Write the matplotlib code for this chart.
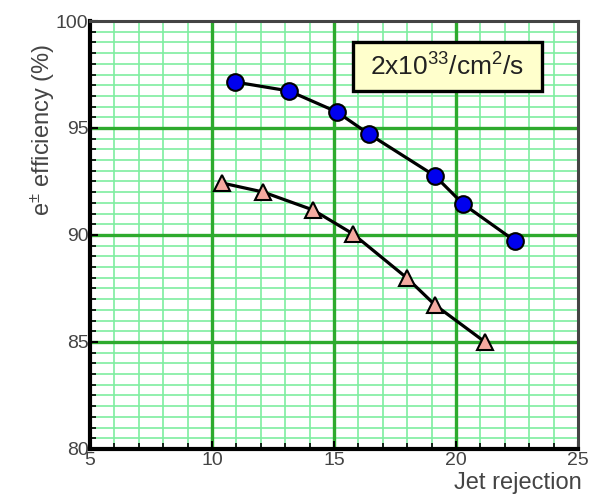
import matplotlib
matplotlib.use("Agg")
import matplotlib.pyplot as plt
from matplotlib.ticker import MultipleLocator
from matplotlib.patches import Rectangle
import numpy as np

# Data
circ_x = [10.94, 13.16, 15.12, 16.43, 19.14, 20.29, 22.42]
circ_y = [97.15, 96.73, 95.75, 94.72, 92.76, 91.45, 89.72]
tri_x = [10.41, 12.09, 14.14, 15.78, 17.99, 19.14, 21.19]
tri_y = [92.43, 92.01, 91.17, 90.05, 87.99, 86.73, 85.00]
x_ticks = [5, 10, 15, 20, 25]
y_ticks = [80, 85, 90, 95, 100]
label_text = r"2x10$^{33}$/cm$^{2}$/s"

plt.rcParams['font.family'] = ['Liberation Sans', 'DejaVu Sans']
plt.rcParams['mathtext.fontset'] = 'custom'
plt.rcParams['mathtext.rm'] = 'Liberation Sans'
plt.rcParams['mathtext.it'] = 'Liberation Sans'

fig = plt.figure(figsize=(5.95, 4.99), dpi=100)
ax = fig.add_axes([90/595, 1-449/499, 488/595, 428/499])

ax.set_xlim(5, 25)
ax.set_ylim(80, 100)
ax.set_xticks(x_ticks)
ax.set_yticks(y_ticks)
ax.xaxis.set_minor_locator(MultipleLocator(1))
ax.yaxis.set_minor_locator(MultipleLocator(0.5))

# grid: minor lines first, then major lines on top
minor_col = '#7eeea0'
major_col = '#2eaa2e'
for xv in np.arange(6, 25, 1):
    ax.axvline(xv, color=minor_col, linewidth=1.2, zorder=0.2)
for yv in np.arange(80.5, 100, 0.5):
    ax.axhline(yv, color=minor_col, linewidth=1.2, zorder=0.2)
for xv in x_ticks[1:-1]:
    ax.axvline(xv, color=major_col, linewidth=2.4, zorder=0.3)
for yv in y_ticks[1:-1]:
    ax.axhline(yv, color=major_col, linewidth=2.4, zorder=0.3)

ax.plot(circ_x, circ_y, color='black', linewidth=2.3, zorder=3)
ax.plot(circ_x, circ_y, linestyle='none', marker='o', markersize=12,
        markerfacecolor='#0000ee', markeredgecolor='black', markeredgewidth=1.5, zorder=4)
ax.plot(tri_x, tri_y, color='black', linewidth=2.3, zorder=3)
ax.plot(tri_x, tri_y, linestyle='none', marker='^', markersize=11.5,
        markerfacecolor='#f3aaa0', markeredgecolor='black', markeredgewidth=1.5, zorder=4)

for s in ['left', 'bottom']:
    ax.spines[s].set_linewidth(3)
    ax.spines[s].set_color('black')
for s in ['top', 'right']:
    ax.spines[s].set_linewidth(2.2)
    ax.spines[s].set_color('#444444')

ax.tick_params(which='both', direction='in', color='black', labelcolor='#444444',
               labelsize=14, top=False, right=False)
ax.tick_params(which='major', length=6, width=1.5, pad=2)
ax.tick_params(which='minor', length=4, width=1.2)
ax.tick_params(axis='y', which='both', pad=1)

ax.set_ylabel(r"e$^{\pm}$ efficiency (%)", fontsize=17, color='#444444')
ax.yaxis.set_label_coords(-0.068, 0.745)
ax.set_xlabel("Jet rejection", fontsize=17, color='#444444', loc='right')
ax.xaxis.set_label_coords(1.008, -0.054)

# luminosity label box
ax.add_patch(Rectangle((0.539, 0.8364), 0.387, 0.1146, transform=ax.transAxes,
                       facecolor='#ffffcc', edgecolor='black', linewidth=2.4, zorder=5))
ax.text(0.7316, 0.893, label_text, transform=ax.transAxes, fontsize=19,
        ha='center', va='center', color='#222222', zorder=6)

fig.savefig('out.png', dpi=100)
